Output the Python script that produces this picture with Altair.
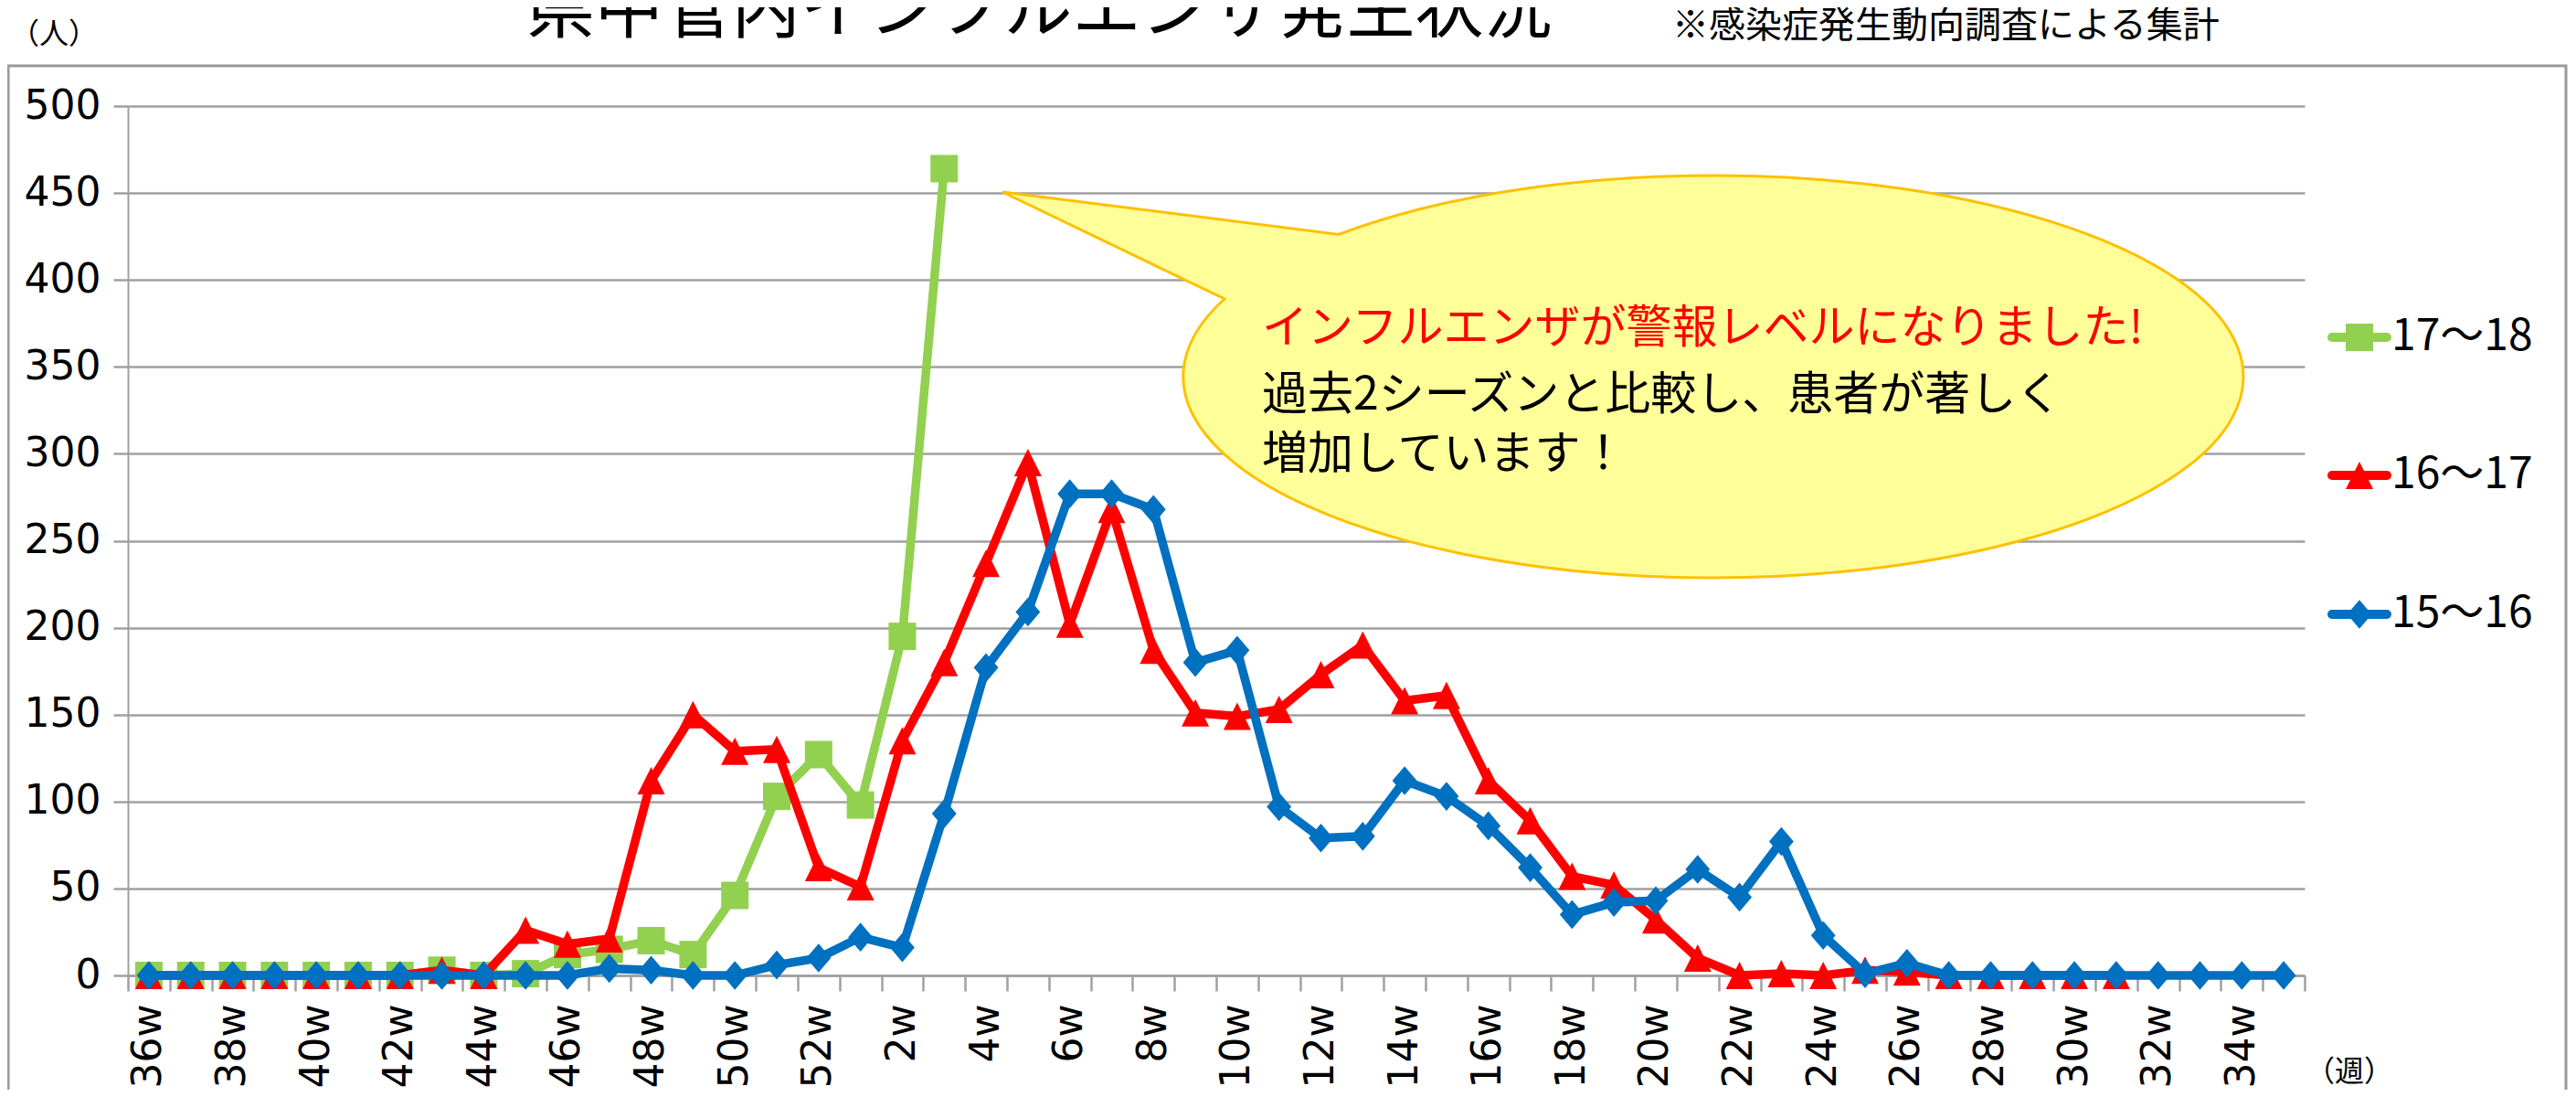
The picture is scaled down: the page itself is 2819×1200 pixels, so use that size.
import altair as alt
import pandas as pd

# ---------------- data ----------------
weeks = [f"{w}w" for w in range(36, 53)] + [f"{w}w" for w in range(1, 36)]
x_tick_labels = ["36w", "38w", "40w", "42w", "44w", "46w", "48w", "50w", "52w",
                 "2w", "4w", "6w", "8w", "10w", "12w", "14w", "16w", "18w", "20w",
                 "22w", "24w", "26w", "28w", "30w", "32w", "34w"]
y_ticks = [0, 50, 100, 150, 200, 250, 300, 350, 400, 450, 500]

series_names = ["17～18", "16～17", "15～16"]

# 36w ... 3w
s_17_18 = [0, 0, 0, 0, 0, 0, 0, 3, 0, 1, 12, 15, 20, 12, 46, 103, 127,
           98, 195, 464]
# 36w ... 31w
s_16_17 = [0, 0, 0, 0, 0, 0, 0, 3, 0, 26, 18, 21, 112, 150, 129, 130, 62,
           51, 135, 180, 237, 295, 202, 268, 187, 151, 149, 153, 173, 190, 158,
           161, 112, 89, 57, 52, 32, 10, 0, 1, 0, 3, 2, 0, 0, 0, 0, 0]
# 36w ... 35w
s_15_16 = [0, 0, 0, 0, 0, 0, 0, 0, 0, 0, 0, 4, 3, 0, 0, 6, 10,
           22, 16, 93, 177, 209, 277, 277, 268, 180, 187, 97, 79, 80, 112,
           103, 86, 62, 35, 42, 43, 61, 45, 77, 23, 1, 7,
           0, 0, 0, 0, 0, 0, 0, 0, 0]

title_text = "県中管内インフルエンザ発生状況"
subtitle_text = "※感染症発生動向調査による集計"
y_unit = "（人）"
x_unit = "（週）"
callout_lines = ["インフルエンザが警報レベルになりました!",
                 "過去2シーズンと比較し、患者が著しく",
                 "増加しています！"]

series_values = [s_17_18, s_16_17, s_15_16]

# ---------------- styles ----------------
colors = ["#92D050", "#FF0000", "#0070C0"]
shapes = ["square", "M0,-1L1,1L-1,1Z", "M0,-1L0.85,0L0,1L-0.85,0Z"]
sizes = [900, 900, 1000]
JP = "Noto Sans CJK JP"
GRID = "#A0A0A0"

label_list = ",".join(f"'{l}'" for l in x_tick_labels)
x_enc = alt.X(
    "week:N", sort=weeks,
    scale=alt.Scale(type="band", domain=weeks, paddingInner=0, paddingOuter=0),
    axis=alt.Axis(
        tickBand="extent", labelExpr=f"indexof([{label_list}], datum.value) >= 0 ? datum.value : ''",
        labelAngle=-90, labelFont="DejaVu Sans", labelFontSize=44, labelColor="black",
        labelPadding=14, tickSize=17, tickColor=GRID, tickWidth=2.5,
        domainColor=GRID, domainWidth=2.5, grid=False, labelOverlap=False, title=None),
)
y_enc = alt.Y(
    "value:Q",
    scale=alt.Scale(domain=[0, 500], nice=False, zero=True),
    axis=alt.Axis(
        values=y_ticks, labelFont="DejaVu Sans", labelFontSize=44, labelColor="black",
        labelPadding=14, tickSize=16, tickColor=GRID, tickWidth=2.5,
        domainColor=GRID, domainWidth=2, grid=True, gridColor=GRID, gridWidth=2.5,
        title=None),
)

one = pd.DataFrame({"a": [0]})
layers = []

# outer frame
layers.append(
    alt.Chart(one).mark_rect(fill="transparent", stroke="#9A9A9A", strokeWidth=3).encode(
        x=alt.value(-131), x2=alt.value(2668), y=alt.value(-44), y2=alt.value(1150))
)

# callout balloon
callout_path = "M-410,-155.6L-778,-202L-535,-85A580,220,0,1,0,-410,-155.6Z"
layers.append(
    alt.Chart(one).mark_point(shape=callout_path, size=4, filled=True, fill="#FFFF99",
                              stroke="#FFC000", strokeWidth=3, opacity=1).encode(
        x=alt.value(1735), y=alt.value(296))
)

# data series
for name, vals, col, shp, sz in zip(series_names, series_values, colors, shapes, sizes):
    df = pd.DataFrame({"week": weeks[:len(vals)], "value": vals, "series": name})
    df["order"] = range(len(df))
    base = alt.Chart(df).encode(x=x_enc, y=y_enc, order="order:Q")
    layers.append(base.mark_line(color=col, strokeWidth=9.5, strokeJoin="round", strokeCap="round"))
    layers.append(base.mark_point(shape=shp, size=sz, filled=True, color=col, opacity=1))

# legend
legend_y = [253, 404, 556]
for name, col, shp, sz, ly in zip(series_names, colors, shapes, sizes, legend_y):
    ldf = pd.DataFrame({"t": [name]})
    layers.append(alt.Chart(ldf).mark_rule(color=col, strokeWidth=10, strokeCap="round").encode(
        x=alt.value(2412), x2=alt.value(2472), y=alt.value(ly)))
    layers.append(alt.Chart(ldf).mark_point(shape=shp, size=sz, filled=True, color=col, opacity=1).encode(
        x=alt.value(2442), y=alt.value(ly)))
    layers.append(alt.Chart(ldf).mark_text(font=JP, fontSize=48, align="left", baseline="middle",
                                           color="black").encode(
        x=alt.value(2477), y=alt.value(ly), text="t:N"))

def label(txt, x, y, size, align="left", baseline="alphabetic", color="black"):
    d = pd.DataFrame({"t": [txt]})
    return alt.Chart(d).mark_text(font=JP, fontSize=size, align=align, baseline=baseline,
                                  color=color).encode(x=alt.value(x), y=alt.value(y), text="t:N")

layers.append(label(title_text, 997, -81, 75, align="center"))
layers.append(label(subtitle_text, 1690, -75, 40))
layers.append(label(y_unit, -129, -68, 32))
layers.append(label(x_unit, 2431, 1067, 32, align="center"))
layers.append(label(callout_lines[0], 1241, 244, 50, baseline="middle", color="#FF0000"))
layers.append(label(callout_lines[1], 1241, 317, 50, baseline="middle"))
layers.append(label(callout_lines[2], 1241, 382, 50, baseline="middle"))

chart = alt.layer(*layers).properties(
    width=2382, height=951,
    padding={"left": 132, "top": 108, "right": 289, "bottom": 125},
    autosize=alt.AutoSizeParams(type="none"),
).configure_view(strokeWidth=0)

chart.save("out.html", embed_options={"renderer": "svg", "actions": False})
